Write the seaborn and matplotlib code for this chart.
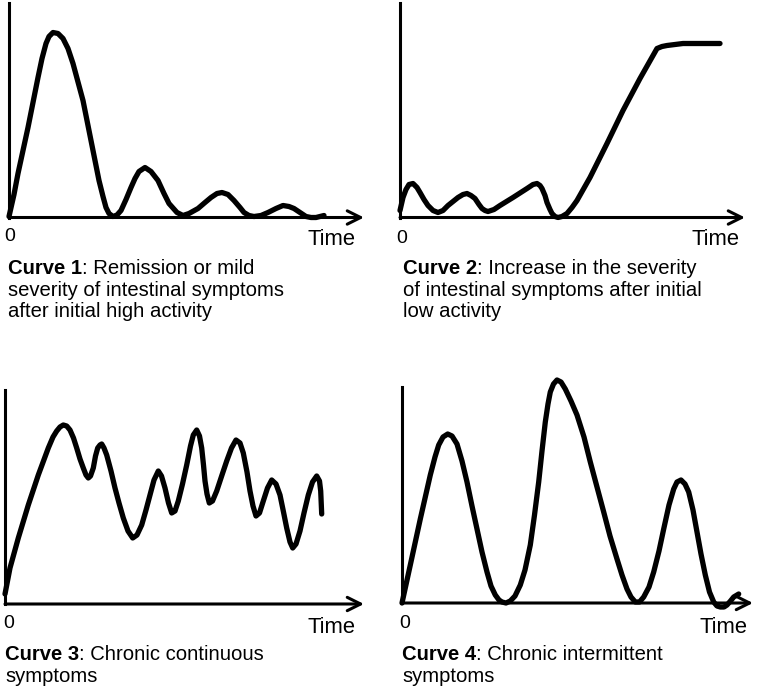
import matplotlib
matplotlib.use("Agg")
import matplotlib.pyplot as plt
import seaborn as sns
import pandas as pd

# ---------------- data (time, severity) ----------------
curve1_time = [0, 0.5, 0.9, 1.9, 2.9, 3.3, 3.7, 4.0, 4.4, 4.9, 5.4, 5.9, 6.4, 7.4,
               8.2, 9.0, 9.4, 9.7, 10.0, 10.4, 10.8, 11.2, 11.7, 12.2, 12.6, 13.0,
               13.6, 14.2, 14.9, 15.5, 16.0, 16.8, 17.4, 18.0, 18.9, 19.6, 20.2,
               20.8, 21.3, 21.9, 22.5, 23.1, 23.5, 24.0, 24.5, 25.2, 25.9, 26.7,
               27.4, 28.0, 28.5, 29.1, 29.7, 30.2, 30.7, 31.1, 31.5]
curve1_sev = [0.1, 2.3, 4.4, 9.0, 14.0, 15.9, 17.4, 18.1, 18.5, 18.4, 17.9, 16.9, 15.4, 11.7,
              7.7, 3.7, 2.1, 1.0, 0.4, 0.1, 0.25, 0.7, 1.8, 3.0, 3.9, 4.6,
              5.0, 4.6, 3.7, 2.4, 1.4, 0.5, 0.2, 0.4, 0.9, 1.5, 2.0,
              2.4, 2.5, 2.3, 1.7, 1.0, 0.5, 0.2, 0.1, 0.2, 0.5, 0.9,
              1.2, 1.1, 0.9, 0.5, 0.1, 0.0, 0.0, 0.1, 0.2]

curve2_time = [0, 0.3, 0.6, 0.9, 1.3, 1.7, 2.0, 2.4, 2.8, 3.3, 3.8, 4.3, 4.8, 5.3,
               5.8, 6.3, 6.7, 7.1, 7.5, 7.9, 8.2, 8.5, 8.8, 9.4, 10.0, 11.3, 12.7,
               13.3, 13.7, 14.0, 14.2, 14.5, 14.7, 15.0, 15.2, 15.5, 15.8, 16.2,
               16.7, 17.2, 17.7, 19.0, 20.7, 22.3, 24.0, 25.7, 26.2, 26.7, 28.3,
               30.3, 32.0]
curve2_sev = [0.7, 2.0, 2.8, 3.3, 3.4, 3.0, 2.5, 1.8, 1.2, 0.7, 0.5, 0.7, 1.2, 1.6,
              2.0, 2.3, 2.4, 2.2, 1.9, 1.3, 0.9, 0.7, 0.6, 0.8, 1.2, 2.0, 2.9,
              3.3, 3.4, 3.2, 2.9, 2.2, 1.5, 0.8, 0.4, 0.1, 0.0, 0.1,
              0.4, 1.0, 1.7, 4.0, 7.4, 10.7, 13.9, 16.9, 17.1, 17.2, 17.4,
              17.4, 17.4]

curve3_time = [0, 0.5, 1.33, 2.33, 3.33, 4.33, 4.8, 5.17, 5.5, 5.83, 6.17, 6.5, 6.85,
               7.17, 7.5, 7.83, 8.1, 8.33, 8.55, 8.83, 9.05, 9.27, 9.5, 9.67, 9.9,
               10.17, 10.6, 11.0, 11.4, 11.83, 12.3, 12.77, 13.2, 13.67, 14.1, 14.5,
               14.9, 15.33, 15.65, 16.0, 16.35, 16.67, 17.0, 17.33, 17.75, 18.17,
               18.55, 18.83, 19.17, 19.45, 19.67, 19.85, 20.0, 20.2, 20.43, 20.75,
               21.17, 21.7, 22.17, 22.65, 23.1, 23.5, 23.83, 24.2, 24.5, 24.8, 25.1,
               25.45, 25.83, 26.25, 26.67, 27.1, 27.5, 27.85, 28.17, 28.5, 28.77,
               29.1, 29.5, 29.9, 30.33, 30.75, 31.17, 31.45, 31.57, 31.67]
curve3_sev = [1.0, 3.6, 6.6, 9.9, 12.9, 15.6, 16.7, 17.3, 17.7, 17.9, 17.8, 17.4, 16.6,
              15.6, 14.5, 13.6, 12.9, 12.6, 12.8, 13.6, 14.8, 15.6, 15.9, 16.0, 15.6,
              14.9, 13.3, 11.6, 10.1, 8.6, 7.3, 6.6, 6.9, 7.9, 9.4, 10.9,
              12.4, 13.3, 12.8, 11.6, 10.1, 9.1, 9.3, 10.3, 12.0, 13.9,
              15.8, 16.9, 17.4, 16.8, 15.6, 13.9, 12.3, 11.0, 10.1, 10.3,
              11.3, 12.9, 14.3, 15.6, 16.4, 16.1, 15.1, 13.2, 11.3, 9.8, 8.8,
              9.1, 10.3, 11.6, 12.4, 12.0, 10.9, 9.2, 7.6, 6.2, 5.6,
              6.0, 7.3, 9.1, 10.9, 12.2, 12.8, 12.3, 11.3, 9.0]

curve4_time = [0, 0.83, 1.83, 2.83, 3.3, 3.67, 4.1, 4.57, 5.0, 5.5, 6.0, 6.5, 7.0,
               7.5, 8.0, 8.5, 8.9, 9.33, 9.7, 10.0, 10.4, 10.83, 11.3, 11.83, 12.3,
               12.83, 13.25, 13.67, 14.0, 14.33, 14.6, 14.83, 15.15, 15.5, 15.9,
               16.33, 16.9, 17.5, 18.2, 18.83, 19.5, 20.17, 20.8, 21.5, 22.0, 22.5,
               22.9, 23.33, 23.75, 24.17, 24.7, 25.17, 25.7, 26.17, 26.7, 27.17,
               27.5, 27.9, 28.3, 28.67, 29.1, 29.5, 29.9, 30.33, 30.75, 31.17, 31.5,
               31.83, 32.2, 32.5, 32.85, 33.17, 33.67]
curve4_sev = [0.0, 3.8, 8.4, 12.8, 14.6, 15.8, 16.6, 16.9, 16.7, 15.9, 14.2, 12.1, 9.7,
              7.4, 5.1, 3.1, 1.7, 0.8, 0.3, 0.1, 0.0, 0.2, 0.7, 1.8, 3.3,
              5.8, 8.8, 12.1, 15.2, 18.1, 19.9, 21.1, 21.9, 22.3, 22.1,
              21.4, 20.2, 18.8, 16.6, 14.1, 11.6, 9.1, 6.7, 4.4, 2.8, 1.4,
              0.6, 0.1, 0.1, 0.6, 1.6, 3.1, 5.2, 7.4, 9.8, 11.4,
              12.1, 12.3, 11.9, 11.1, 9.3, 7.1, 4.9, 2.8, 1.1, 0.1, -0.3,
              -0.4, -0.4, -0.2, 0.2, 0.6, 0.9]

curve_names = ["Curve 1", "Curve 2", "Curve 3", "Curve 4"]
caption_rest = [
    [": Remission or mild", "severity of intestinal symptoms", "after initial high activity"],
    [": Increase in the severity", "of intestinal symptoms after initial", "low activity"],
    [": Chronic continuous", "symptoms"],
    [": Chronic intermittent", "symptoms"],
]
x_label = "Time"
origin_label = "0"

# ---------------- style ----------------
sns.set_theme(style="white")
plt.rcParams["font.family"] = ["Liberation Sans", "DejaVu Sans"]

W, H = 764, 690
fig = plt.figure(figsize=(W / 100, H / 100), dpi=100)

# panel geometry in pixels: origin x, origin y, arrow tip x, y-axis top
panels = [
    (9, 217.5, 364, 3),
    (400, 217.5, 745, 3),
    (5, 604, 364, 390),
    (402, 603, 753, 387),
]
curves = [
    (curve1_time, curve1_sev),
    (curve2_time, curve2_sev),
    (curve3_time, curve3_sev),
    (curve4_time, curve4_sev),
]

overlay = fig.add_axes([0, 0, 1, 1])
overlay.set_axis_off()
overlay.set_xlim(0, W)
overlay.set_ylim(H, 0)

for i, ((x0, y0, x1, ytop), (t, s)) in enumerate(zip(panels, curves)):
    ax = fig.add_axes([x0 / W, 1 - y0 / H, (x1 - x0) / W, (y0 - ytop) / H])
    ax.patch.set_alpha(0)
    df = pd.DataFrame({"time": t, "severity": s})
    sns.lineplot(data=df, x="time", y="severity", ax=ax, color="black",
                 linewidth=3.8, sort=False, estimator=None, clip_on=False,
                 solid_joinstyle="round", solid_capstyle="round")
    ax.set_xlim(0, (x1 - x0) / 10)
    ax.set_ylim(0, (y0 - ytop) / 10)
    for side in ["top", "right", "bottom"]:
        ax.spines[side].set_visible(False)
    ax.spines["left"].set_color("black")
    ax.spines["left"].set_linewidth(2.2)
    ax.set_xticks([])
    ax.set_yticks([])
    ax.set_xlabel("")
    ax.set_ylabel("")
    ax.annotate("", xy=(1, 0), xytext=(0, 0), xycoords="axes fraction",
                textcoords="axes fraction",
                arrowprops=dict(arrowstyle="->", lw=2.2, color="black",
                                mutation_scale=24, shrinkA=0, shrinkB=0))

# axis labels
time_pos = [(332, 245), (716, 245), (332, 633), (724, 633)]
zero_pos = [(10, 241), (402, 243), (9, 628), (405, 628)]
for (tx, ty), (zx, zy) in zip(time_pos, zero_pos):
    overlay.text(tx, ty, x_label, fontsize=15.8, ha="center", va="baseline", color="black")
    overlay.text(zx, zy, origin_label, fontsize=14, ha="center", va="baseline", color="black")

# captions
cap_x = [8, 403, 5, 402]
cap_base = [[273.5, 295.5, 317], [273.5, 295.5, 317], [659.5, 681.5], [659.5, 681.5]]
for name, rest, cx, bases in zip(curve_names, caption_rest, cap_x, cap_base):
    for j, (line, by) in enumerate(zip(rest, bases)):
        if j == 0:
            bt = overlay.text(cx, by, name, fontsize=14.6, fontweight="bold",
                              ha="left", va="baseline", color="black")
            overlay.annotate(line, xy=(1, 0), xycoords=bt, ha="left", va="bottom",
                             fontsize=14.6, color="black")
        else:
            overlay.text(cx, by, line, fontsize=14.6, ha="left", va="baseline", color="black")

fig.savefig("out.png", dpi=100, facecolor="white")
